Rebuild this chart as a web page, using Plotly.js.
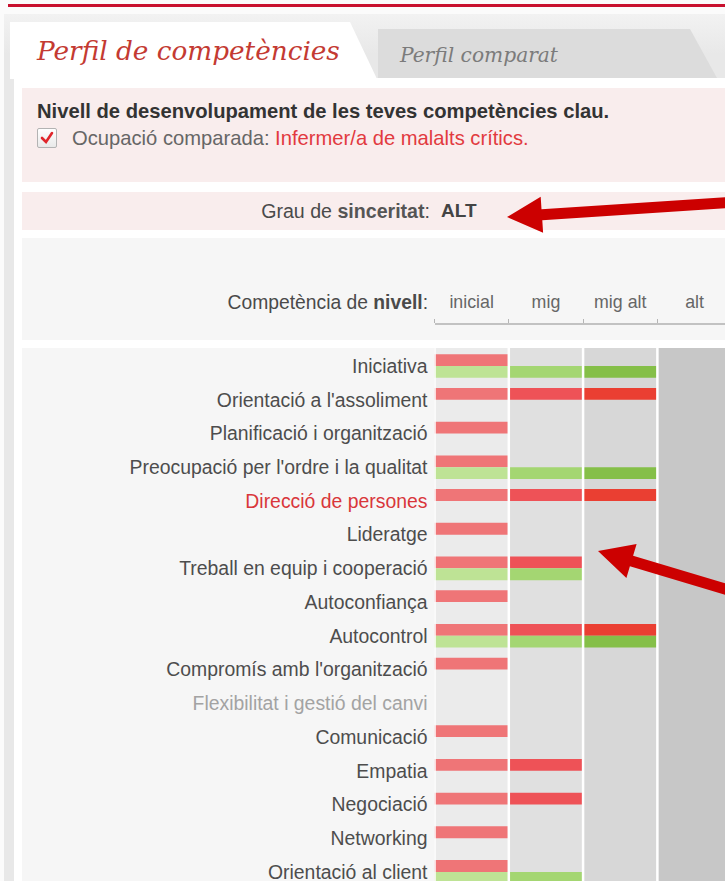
<!DOCTYPE html>
<html><head><meta charset="utf-8">
<script src="https://cdn.plot.ly/plotly-3.0.1.min.js"></script>
<style>
html,body{margin:0;padding:0}
body{width:725px;height:881px;overflow:hidden;background:#fff;font-family:"Liberation Sans",Arial,sans-serif;position:relative}
.abs{position:absolute}
.sans{font-family:"Liberation Sans",Arial,sans-serif}
</style></head><body>
<div class="abs" style="left:0;top:0;width:725px;height:881px;background:#fbfbfb"></div>
<div class="abs" style="left:8px;top:4px;width:717px;height:3px;background:#c8102e"></div>
<div class="abs" style="left:4px;top:14px;width:721px;height:867px;background:linear-gradient(#f2f2f2,#e8e8e8 40px)"></div>
<svg class="abs" style="left:0;top:0" width="725" height="90">
  <polygon points="10,22 350,22 377,79 10,79" fill="#ffffff"/>
  <polygon points="378,29 690,29 717,78 378,78" fill="#dcdcdc"/>
</svg>
<div class="abs" style="left:37px;top:36px;font-family:'DejaVu Serif',serif;font-style:italic;font-size:26.3px;color:#c43a32;white-space:nowrap">Perfil de competències</div>
<div class="abs" style="left:400px;top:43px;font-family:'DejaVu Serif',serif;font-style:italic;font-size:20.2px;color:#7b7b7b;white-space:nowrap">Perfil comparat</div>
<div class="abs" style="left:14px;top:78px;width:711px;height:803px;background:#ffffff"></div>
<div class="abs" style="left:22px;top:88px;width:703px;height:94px;background:#f9eded"></div>
<div class="abs sans" style="left:37px;top:100px;font-size:20.2px;font-weight:bold;color:#333;white-space:nowrap">Nivell de desenvolupament de les teves competències clau.</div>
<div class="abs" style="left:37px;top:128px;width:18px;height:18px;border:1px solid #b3b3b3;border-radius:2px;background:linear-gradient(#ffffff,#e9e9e9)"></div>
<svg class="abs" style="left:37px;top:128px" width="20" height="20"><path d="M5,10 L9,14 L15,5" stroke="#e0262c" stroke-width="2.6" fill="none" stroke-linecap="round"/></svg>
<div class="abs sans" style="left:72px;top:127px;font-size:20.2px;color:#666;white-space:nowrap">Ocupació comparada: <span style="color:#e23a3f">Infermer/a de malalts crítics.</span></div>
<div class="abs" style="left:22px;top:192px;width:703px;height:38px;background:#f9eded"></div>
<div class="abs sans" style="right:295px;top:200px;font-size:19.6px;color:#4a4a4a;white-space:nowrap">Grau de <span style="font-weight:bold;color:#555">sinceritat</span>:</div>
<div class="abs sans" style="left:441px;top:200px;font-size:19px;font-weight:bold;color:#444;white-space:nowrap">ALT</div>
<div class="abs" style="left:22px;top:238px;width:703px;height:102px;background:#f6f6f6"></div>
<div class="abs sans" style="right:297px;top:292px;font-size:19.3px;color:#4a4a4a;white-space:nowrap">Competència de <b>nivell</b>:</div>
<div class="abs" style="left:22px;top:348px;width:703px;height:533px;background:#f6f6f6"></div>
<div id="chart" class="abs" style="left:0;top:238px;width:725px;height:643px"></div>
<svg class="abs" style="left:0;top:0;pointer-events:none" width="725" height="881">
  <polygon points="507,217 540.7,196.7 541.5,209.2 729.6,197 730.4,208 542.3,220.2 543.1,232.7" fill="#cc0000"/>
  <polygon points="598,551 636.6,543.9 633.1,555.7 736.6,586.6 733.4,597.2 629.9,566.3 626.4,578.1" fill="#cc0000"/>
</svg>
<script>
// ---- data ----
const categories = [
  "Iniciativa",
  "Orientació a l'assoliment",
  "Planificació i organització",
  "Preocupació per l'ordre i la qualitat",
  "Direcció de persones",
  "Lideratge",
  "Treball en equip i cooperació",
  "Autoconfiança",
  "Autocontrol",
  "Compromís amb l'organització",
  "Flexibilitat i gestió del canvi",
  "Comunicació",
  "Empatia",
  "Negociació",
  "Networking",
  "Orientació al client"
];
// user's competence level (number of levels reached: 1=inicial, 2=mig, 3=mig alt)
const userLevel       = [1, 3, 1, 1, 3, 1, 2, 1, 3, 1, 0, 1, 2, 2, 1, 1];
// level required by the compared occupation
const occupationLevel = [3, 0, 0, 3, 0, 0, 2, 0, 3, 0, 0, 0, 0, 0, 0, 2];
const levelLabels = ["inicial", "mig", "mig alt", "alt"];

// ---- styles ----
const redShades   = ["#ef7577", "#ee5257", "#ea3f32"];
const greenShades = ["#bee395", "#a4d672", "#85bf48"];
const columnFills = ["#ebebeb", "#e0e0e0", "#d7d7d7", "#c7c7c7"];
const labelColors = {"Direcció de persones": "#d9363b", "Flexibilitat i gestió del canvi": "#a3a3a3"};

const PX_H = 643, ROWS_TOP = 110;
const traces = [];
function addSeries(levels, shades, offset, name) {
  for (let k = 1; k <= 3; k++) {
    traces.push({
      type: 'bar', orientation: 'h', y: categories,
      x: levels.map(v => v >= k ? 1 : null),
      base: k - 1, offset: offset, width: 0.35,
      marker: {color: shades[k - 1], line: {width: 0}},
      name: name + ' ' + levelLabels[k - 1], hoverinfo: 'skip', showlegend: false
    });
  }
}
addSeries(userLevel, redShades, -0.35, 'Perfil');
addSeries(occupationLevel, greenShades, 0, 'Ocupació');
// empty trace so that the top level axis (x2) gets drawn
traces.push({type: 'scatter', mode: 'markers', x: [], y: [], xaxis: 'x2', yaxis: 'y', hoverinfo: 'skip', showlegend: false});

const shapes = [];
columnFills.forEach((c, i) => shapes.push({type: 'rect', xref: 'x', yref: 'y domain', x0: i, x1: i + 1, y0: 0, y1: 1, fillcolor: c, line: {width: 0}, layer: 'below'}));
for (let i = 0; i < 4; i++) shapes.push({type: 'line', xref: 'x', yref: 'y domain', x0: i, x1: i, y0: 0, y1: 1, line: {color: '#ffffff', width: 2.5}, layer: 'above'});

const layout = {
  width: 725, height: PX_H,
  margin: {l: 0, r: 0, t: 0, b: 0},
  paper_bgcolor: 'rgba(0,0,0,0)', plot_bgcolor: 'rgba(0,0,0,0)',
  barmode: 'overlay', showlegend: false,
  font: {family: 'Liberation Sans, Arial, sans-serif'},
  xaxis: {domain: [434.5 / 725, 1], range: [0, 3.91], showgrid: false, zeroline: false, showticklabels: false, showline: false, ticks: '', fixedrange: true},
  xaxis2: {overlaying: 'x', matches: 'x', anchor: 'free', position: (PX_H - 85) / PX_H, side: 'top',
    showline: true, linecolor: '#c2c2c2', linewidth: 1.5,
    tickmode: 'array', tickvals: [0.5, 1.5, 2.5, 3.5], ticktext: levelLabels, ticks: '',
    ticklabelstandoff: 8,
    tickfont: {family: 'Liberation Sans, Arial, sans-serif', size: 17.8, color: '#666'},
    minor: {tickvals: [0, 1, 2, 3, 4], ticks: 'outside', ticklen: 4, tickcolor: '#b5b5b5', tickwidth: 1},
    showgrid: false, zeroline: false, fixedrange: true},
  yaxis: {domain: [0, (PX_H - ROWS_TOP) / PX_H], type: 'category', categoryorder: 'array', categoryarray: categories,
    range: [15.27, -0.534], tickmode: 'array', tickvals: categories,
    ticktext: categories.map(c => labelColors[c] ? '<span style="color:' + labelColors[c] + '">' + c + '</span>' : c),
    tickfont: {family: 'Liberation Sans, Arial, sans-serif', size: 19.4, color: '#4d4d4d'},
    showgrid: false, zeroline: false, showline: false, ticks: '', ticklabelstandoff: 6, fixedrange: true},
  shapes: shapes
};
Plotly.newPlot('chart', traces, layout, {displayModeBar: false, staticPlot: true});
</script>
</body></html>
